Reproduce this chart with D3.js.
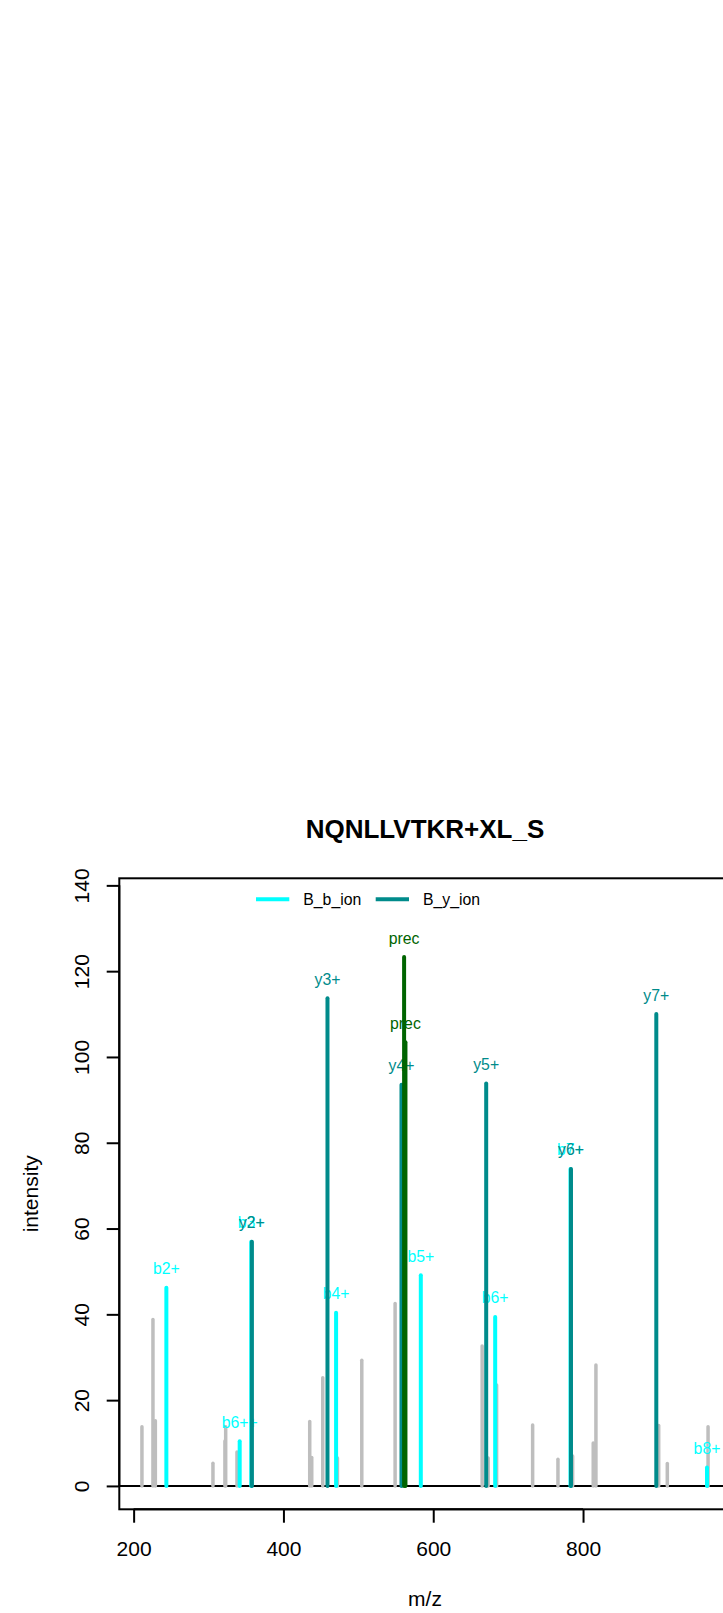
<!DOCTYPE html>
<html>
<head>
<meta charset="utf-8">
<script src="https://cdn.jsdelivr.net/npm/d3@7"></script>
<style>
  body { margin: 0; background: #fff; }
  text { font-family: "Liberation Sans", Arial, sans-serif; }
</style>
</head>
<body>
<div id="chart"></div>
<script>
var title = "NQNLLVTKR+XL_S";
var xTicks = [200, 400, 600, 800];
var yTicks = [0, 20, 40, 60, 80, 100, 120, 140];
var xlim = [211.1, 966.9], ylim = [0, 136.2];

// unmatched peaks
var greyMz  = [211.1, 225.8, 229.0, 305.9, 321.9, 322.9, 338.0, 435.1, 437.8, 452.5, 472.1, 504.6,
               549.1, 665.3, 673.3, 684.6, 732.7, 766.5, 786.1, 813.6, 817.2, 901.0, 912.5, 966.9];
var greyInt = [13.8, 38.8, 15.2, 5.3, 10.5, 13.8, 7.9, 15.0, 6.6, 25.2, 6.5, 29.3,
               42.5, 32.6, 6.5, 23.5, 14.2, 6.2, 7.0, 10.0, 28.2, 14.1, 5.2, 13.8];

// b ions
var bMz  = [243.7, 341.6, 357.0, 470.3, 583.4, 682.7, 783.2, 965.5];
var bInt = [46.2, 10.4, 56.9, 40.4, 49.1, 39.4, 73.9, 4.3];
var bLab = ["b2+", "b6++", "b3+", "b4+", "b5+", "b6+", "b7+", "b8+"];

// y ions
var yMz  = [357.9, 458.8, 557.6, 670.7, 783.9, 897.8];
var yInt = [56.9, 113.7, 93.5, 93.8, 73.9, 110.0];
var yLab = ["y2+", "y3+", "y4+", "y5+", "y6+", "y7+"];

// precursor
var precMz  = [561.1, 562.9];
var precInt = [123.3, 103.4];
var precLab = ["prec", "prec"];

var width = 723, height = 1613;
var plot = { left: 119.3, right: 730.7, top: 878.3, bottom: 1509.3 };

var svg = d3.select("#chart").append("svg")
    .attr("width", width)
    .attr("height", height);

svg.append("rect").attr("width", width).attr("height", height).attr("fill", "#fff");

var xr = xlim[1] - xlim[0], yr = ylim[1] - ylim[0];
var x = d3.scaleLinear()
    .domain([xlim[0] - 0.04 * xr, xlim[1] + 0.04 * xr])
    .range([plot.left, plot.right]);
var y = d3.scaleLinear()
    .domain([ylim[0] - 0.04 * yr, ylim[1] + 0.04 * yr])
    .range([plot.bottom, plot.top]);

svg.append("clipPath").attr("id", "clip")
  .append("rect")
    .attr("x", plot.left).attr("y", plot.top)
    .attr("width", plot.right - plot.left).attr("height", plot.bottom - plot.top);

var g = svg.append("g").attr("clip-path", "url(#clip)");

// zero line
g.append("line")
    .attr("x1", plot.left).attr("x2", plot.right)
    .attr("y1", y(0)).attr("y2", y(0))
    .attr("stroke", "#000").attr("stroke-width", 2);

function drawPeaks(mz, inten, color, lw) {
  g.append("g").selectAll("line")
    .data(mz.map(function(m, i) { return { mz: m, v: inten[i] }; }))
    .enter().append("line")
      .attr("x1", function(d) { return x(d.mz); })
      .attr("x2", function(d) { return x(d.mz); })
      .attr("y1", y(0))
      .attr("y2", function(d) { return y(d.v); })
      .attr("stroke", color)
      .attr("stroke-width", lw)
      .attr("stroke-linecap", "round");
}

function drawLabels(mz, inten, labs, color) {
  g.append("g").selectAll("text")
    .data(mz.map(function(m, i) { return { mz: m, v: inten[i], t: labs[i] }; }))
    .enter().append("text")
      .attr("x", function(d) { return x(d.mz); })
      .attr("y", function(d) { return y(d.v) - 13.5; })
      .attr("text-anchor", "middle")
      .attr("font-size", 15.8)
      .attr("fill", color)
      .text(function(d) { return d.t; });
}

drawPeaks(greyMz, greyInt, "#BEBEBE", 3.5);
drawPeaks(bMz, bInt, "#00FFFF", 4);
drawLabels(bMz, bInt, bLab, "#00FFFF");
drawPeaks(yMz, yInt, "#008B8B", 4);
drawLabels(yMz, yInt, yLab, "#008B8B");
drawPeaks(precMz, precInt, "#006400", 4);
drawLabels(precMz, precInt, precLab, "#006400");

// box
svg.append("rect")
    .attr("x", plot.left).attr("y", plot.top)
    .attr("width", plot.right - plot.left).attr("height", plot.bottom - plot.top)
    .attr("fill", "none").attr("stroke", "#000").attr("stroke-width", 2);

// x axis
var xAxis = svg.append("g")
    .attr("transform", "translate(0," + plot.bottom + ")")
    .call(d3.axisBottom(x).tickValues(xTicks).tickSize(13.4).tickFormat(d3.format("d")));
xAxis.select(".domain").remove();
xAxis.selectAll("line").attr("stroke-width", 2);
xAxis.selectAll("text")
    .attr("y", 46.5).attr("dy", null)
    .attr("font-size", 21).attr("font-family", "Liberation Sans, Arial, sans-serif");
xAxis.append("line")
    .attr("x1", x(xTicks[0])).attr("x2", x(xTicks[xTicks.length - 1]))
    .attr("stroke", "#000").attr("stroke-width", 2);

// y axis
var yAxis = svg.append("g")
    .attr("transform", "translate(" + plot.left + ",0)")
    .call(d3.axisLeft(y).tickValues(yTicks).tickSize(12.6).tickFormat(d3.format("d")));
yAxis.select(".domain").remove();
yAxis.selectAll("line").attr("stroke-width", 2);
yAxis.selectAll("text")
    .attr("x", null).attr("dy", null)
    .attr("transform", "translate(-30.1,0) rotate(-90)")
    .attr("text-anchor", "middle")
    .attr("font-size", 21).attr("font-family", "Liberation Sans, Arial, sans-serif");
yAxis.append("line")
    .attr("y1", y(yTicks[0])).attr("y2", y(yTicks[yTicks.length - 1]))
    .attr("stroke", "#000").attr("stroke-width", 2);

// titles
svg.append("text")
    .attr("x", (plot.left + plot.right) / 2).attr("y", 837.5)
    .attr("text-anchor", "middle").attr("font-size", 26).attr("font-weight", "bold")
    .text(title);
svg.append("text")
    .attr("x", (plot.left + plot.right) / 2).attr("y", 1606)
    .attr("text-anchor", "middle").attr("font-size", 21)
    .text("m/z");
svg.append("text")
    .attr("transform", "translate(37.7," + ((plot.top + plot.bottom) / 2) + ") rotate(-90)")
    .attr("text-anchor", "middle").attr("font-size", 21)
    .text("intensity");

// legend
var legItems = [
  { name: "B_b_ion", color: "#00FFFF", x: 256 },
  { name: "B_y_ion", color: "#008B8B", x: 375.7 }
];
var leg = svg.append("g").selectAll("g").data(legItems).enter().append("g");
leg.append("line")
    .attr("x1", function(d) { return d.x; }).attr("x2", function(d) { return d.x + 33.3; })
    .attr("y1", 899.3).attr("y2", 899.3)
    .attr("stroke", function(d) { return d.color; }).attr("stroke-width", 4);
leg.append("text")
    .attr("x", function(d) { return d.x + 47.3; }).attr("y", 905.3)
    .attr("font-size", 15.8)
    .text(function(d) { return d.name; });
</script>
</body>
</html>
